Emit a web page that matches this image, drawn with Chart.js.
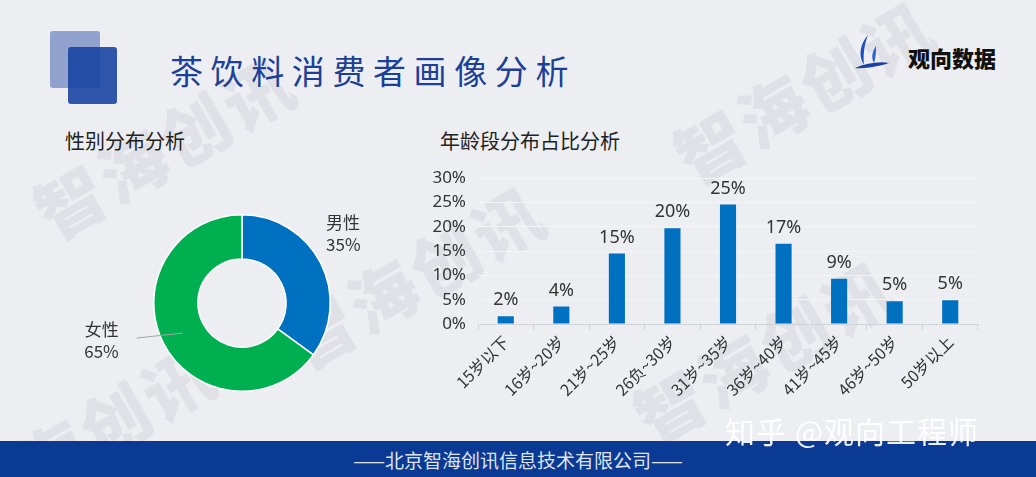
<!DOCTYPE html>
<html>
<head>
<meta charset="utf-8">
<script src="https://cdn.jsdelivr.net/npm/chart.js@4.4.0/dist/chart.umd.min.js"></script>
<style>
  html, body { margin: 0; padding: 0; }
  body { width: 1036px; height: 477px; position: relative; overflow: hidden; background: #eceef2;
         font-family: "Noto Sans", "Noto Sans CJK SC", sans-serif; }
  .wm { position: absolute; font-family: "Noto Sans CJK SC"; font-weight: 900; font-size: 68px;
        color: rgba(110,115,125,0.1); transform: rotate(-30deg); white-space: nowrap; letter-spacing: 4px; }
  .sq1 { position: absolute; left: 50px; top: 31px; width: 50px; height: 57px; background: rgba(70,100,175,0.55); border-radius: 3px; }
  .sq2 { position: absolute; left: 68px; top: 47px; width: 49px; height: 57px; background: rgba(20,65,160,0.88); border-radius: 3px; }
  .title { position: absolute; left: 170px; top: 48px; font-family: "Noto Sans CJK SC"; font-size: 33px; letter-spacing: 7.6px;
           color: #1c3f98; line-height: 44px; }
  .logo { position: absolute; left: 908px; top: 41px; font-family: "Noto Sans CJK SC"; font-weight: 900; font-size: 22px; color: #111; }
  .sub { position: absolute; font-family: "Noto Sans CJK SC"; font-size: 20px; color: #222; line-height: 26px; }
  #pie { position: absolute; left: 40px; top: 160px; }
  #bar { position: absolute; left: 410px; top: 156px; }
  .footer { position: absolute; left: 0; top: 441px; width: 1036px; height: 36px; background: #0b3a95; }
  .ftext { position: absolute; left: 0; width: 1036px; top: 448px; text-align: center; font-family: "Noto Sans CJK SC";
           font-size: 19px; color: #dfe3ee; line-height: 24px; }
  .zh { position: absolute; left: 725px; top: 410px; font-family: "Noto Sans CJK SC"; font-size: 30px; letter-spacing: 1px;
        color: rgba(255,255,255,0.92); line-height: 40px; }
</style>
</head>
<body>
<div class="wm" style="left:20px; top:95px;">智海创讯</div>
<div class="wm" style="left:660px; top:40px;">智海创讯</div>
<div class="wm" style="left:270px; top:225px;">智海创讯</div>
<div class="wm" style="left:-60px; top:385px;">智海创讯</div>
<div class="wm" style="left:620px; top:300px;">智海创讯</div>

<div class="sq1"></div>
<div class="sq2"></div>
<div class="title">茶饮料消费者画像分析</div>
<svg style="position:absolute; left:852px; top:32px;" width="40" height="40" viewBox="0 0 40 40">
  <path d="M16 3 C 8 12, 6 24, 12 33 C 11 24, 12 13, 16 3 Z" fill="#1f4fc0"/>
  <path d="M24 14 C 20 20, 19 26, 22 31 C 24 25, 24 20, 24 14 Z" fill="#2a62d8"/>
  <path d="M3 36 C 14 31, 28 29, 37 31 C 28 34, 14 37, 3 36 Z" fill="#1a3fa8"/>
</svg>
<div class="logo">观向数据</div>

<div class="sub" style="left:65px; top:128px;">性别分布分析</div>
<div class="sub" style="left:440px; top:128px;">年龄段分布占比分析</div>

<canvas id="pie" width="400" height="290"></canvas>
<canvas id="bar" width="590" height="290"></canvas>

<div class="footer"></div>
<div class="ftext">——北京智海创讯信息技术有限公司——</div>
<div class="zh">知乎 @观向工程师</div>

<script>
// gender split
const genderLabels = ['男性', '女性'];
const genderValues = [35, 65];
const genderColors = ['#0070c0', '#00b050'];

// age groups
const ageLabels = ['15岁以下', '16岁~20岁', '21岁~25岁', '26负~30岁', '31岁~35岁', '36岁~40岁', '41岁~45岁', '46岁~50岁', '50岁以上'];
const ageValues = [1.6, 3.6, 14.5, 19.7, 24.6, 16.5, 9.3, 4.7, 4.9];
const ageTickMax = 30;
const ageTickStep = 5;

const txtColor = '#333';

// labels next to the donut slices
const pieLabels = {
    id: 'pieLabels',
    afterDatasetsDraw(chart) {
        const ctx = chart.ctx;
        const meta = chart.getDatasetMeta(0);
        ctx.save();
        ctx.font = '17px "Noto Sans CJK SC"';
        ctx.fillStyle = txtColor;
        meta.data.forEach(function (arc, i) {
            const p = arc.getProps(['x', 'y', 'startAngle', 'endAngle', 'outerRadius', 'innerRadius'], true);
            const mid = (p.startAngle + p.endAngle) / 2;
            const lines = [genderLabels[i], genderValues[i] + '%'];
            if (Math.cos(mid) >= 0) {
                const ax = p.x + (p.outerRadius + 14) * Math.cos(mid);
                const ay = p.y + (p.outerRadius + 14) * Math.sin(mid);
                ctx.textAlign = 'left';
                ctx.textBaseline = 'middle';
                ctx.fillText(lines[0], ax - 7, ay - 34);
                ctx.fillText(lines[1], ax - 7, ay - 12);
            } else {
                const r = (p.outerRadius + p.innerRadius) / 2;
                const sx = p.x + r * Math.cos(mid);
                const sy = p.y + r * Math.sin(mid);
                const ex = p.x - p.outerRadius - 17;
                const ey = sy + 5;
                ctx.strokeStyle = '#a6a6a6';
                ctx.lineWidth = 1;
                ctx.beginPath();
                ctx.moveTo(sx, sy);
                ctx.lineTo(ex, ey);
                ctx.stroke();
                ctx.textAlign = 'right';
                ctx.textBaseline = 'middle';
                ctx.fillText(lines[0], ex - 18, ey - 9);
                ctx.fillText(lines[1], ex - 18, ey + 13);
            }
        });
        ctx.restore();
    }
};

new Chart(document.getElementById('pie').getContext('2d'), {
    type: 'doughnut',
    data: {
        labels: genderLabels,
        datasets: [{
            data: genderValues,
            backgroundColor: genderColors,
            borderColor: '#ffffff',
            borderWidth: 1.5
        }]
    },
    options: {
        responsive: false,
        animation: false,
        cutout: '50%',
        layout: { padding: { left: 113, right: 109, top: 54, bottom: 58 } },
        plugins: { legend: { display: false }, tooltip: { enabled: false } }
    },
    plugins: [pieLabels]
});

// value labels above bars
const barLabels = {
    id: 'barLabels',
    afterDatasetsDraw(chart) {
        const ctx = chart.ctx;
        ctx.save();
        ctx.font = '18px "Noto Sans"';
        ctx.fillStyle = txtColor;
        ctx.textAlign = 'center';
        ctx.textBaseline = 'bottom';
        chart.getDatasetMeta(0).data.forEach(function (bar, i) {
            ctx.fillText(Math.round(ageValues[i]) + '%', bar.x, bar.y - 7);
        });
        ctx.restore();
    }
};

new Chart(document.getElementById('bar').getContext('2d'), {
    type: 'bar',
    data: {
        labels: ageLabels,
        datasets: [{
            data: ageValues,
            backgroundColor: '#0070c0',
            barPercentage: 0.58,
            categoryPercentage: 0.5
        }]
    },
    options: {
        responsive: false,
        animation: false,
        layout: { padding: { left: 0, right: 22, top: 4, bottom: 0 } },
        plugins: { legend: { display: false }, tooltip: { enabled: false } },
        scales: {
            x: {
                afterFit: function (scale) { scale.height = 122; },
                grid: { drawOnChartArea: false, drawTicks: true, tickLength: 6, color: '#d0d3d8' },
                border: { color: '#d0d3d8' },
                ticks: {
                    color: txtColor,
                    font: { size: 16, family: '"Noto Sans CJK SC"' },
                    minRotation: 45,
                    maxRotation: 45,
                    autoSkip: false,
                    padding: 2
                }
            },
            y: {
                min: 0,
                max: ageTickMax,
                afterFit: function (scale) { scale.width = 68; },
                grid: { color: '#f4f5f7', drawTicks: false },
                border: { display: false },
                ticks: {
                    stepSize: ageTickStep,
                    color: txtColor,
                    padding: 12,
                    font: { size: 17, family: '"Noto Sans"' },
                    callback: function (v) { return v + '%'; }
                }
            }
        }
    },
    plugins: [barLabels]
});
</script>
</body>
</html>
